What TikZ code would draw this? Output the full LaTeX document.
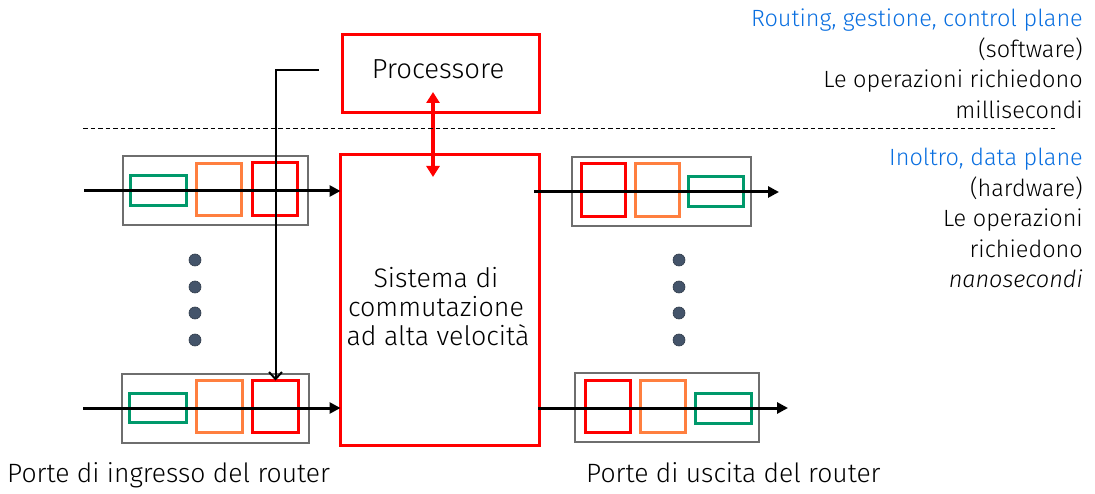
\documentclass[tikz,border=0pt]{standalone}
\usepackage{fontspec}
\setmainfont{Fira Sans}[UprightFont={* Light},ItalicFont={* Light Italic}]
\usetikzlibrary{arrows.meta}
\definecolor{cred}{HTML}{FF0000}
\definecolor{corange}{HTML}{FF7F3F}
\definecolor{cgreen}{HTML}{00996B}
\definecolor{cgray}{HTML}{6E6E6E}
\definecolor{cblue}{HTML}{0A6FE0}
\definecolor{cdot}{HTML}{44546A}
\begin{document}
\begin{tikzpicture}[x=1pt,y=-1pt,
  bx/.style={draw, inner sep=0pt, outer sep=0pt},
  sz/.style 2 args={minimum width=#1pt, minimum height=#2pt},
  port/.style={bx, draw=cgray, line width=2.3pt},
  qr/.style={bx, draw=cred, line width=3.3pt},
  qo/.style={bx, draw=corange, line width=3.3pt},
  qg/.style={bx, draw=cgreen, line width=3.3pt},
  bigbox/.style={bx, draw=cred, line width=3.3pt},
  flow/.style={line width=3pt, -{Triangle[length=11pt,width=11pt]}},
  ctrl/.style={line width=2pt, -{Straight Barb[length=7pt,width=13pt,line width=2pt]}},
  redarr/.style={draw=cred, line width=3.8pt, {Triangle[length=11pt,width=13pt]}-{Triangle[length=11pt,width=13pt]}},
  dotn/.style={circle, fill=cdot, draw=cdot!70!black, line width=0.6pt, minimum size=12pt, inner sep=0pt},
  txt/.style={inner sep=0pt, font=\fontsize{23.5pt}{28pt}\selectfont},
  blue/.style={txt, text=cblue},
  swtxt/.style={inner sep=0pt, font=\fontsize{26.8pt}{30pt}\selectfont, anchor=base}
]
\useasboundingbox (0,0) rectangle (1095,494);

% main blocks
\node[bigbox, sz={197}{78}] (proc) at (441,73.5) {};
\node[inner sep=0pt, font=\fontsize{27.5pt}{32pt}\selectfont, anchor=base] (proct) at (438,79) {Processore};
\node[bigbox, sz={199}{291}] (sw) at (440,300) {};
\node[swtxt] (swt1) at (436,288) {Sistema di};
\node[swtxt] (swt2) at (436,316.5) {commutazione};
\node[swtxt] (swt3) at (438,345) {ad alta velocità};

% input port top
\node[port, sz={185}{69}] (in1) at (215.5,190.5) {};
\node[qg, sz={56}{30}] (in1g) at (158.5,190.5) {};
\node[qo, sz={45}{52}] (in1o) at (219,189.5) {};
\node[qr, sz={45}{53}] (in1r) at (275,189) {};
% input port bottom
\node[port, sz={187}{69}] (in2) at (215.5,408.5) {};
\node[qg, sz={57}{29}] (in2g) at (158,408) {};
\node[qo, sz={46}{52}] (in2o) at (219.5,406.5) {};
\node[qr, sz={46}{52}] (in2r) at (275.5,406.5) {};
% output port top
\node[port, sz={179}{69}] (out1) at (661.5,191.5) {};
\node[qr, sz={44}{53}] (out1r) at (603.5,190) {};
\node[qo, sz={44}{53}] (out1o) at (657.5,190) {};
\node[qg, sz={55}{30}] (out1g) at (716,191.5) {};
% output port bottom
\node[port, sz={184}{69}] (out2) at (667,407.5) {};
\node[qr, sz={45}{52}] (out2r) at (608,406.5) {};
\node[qo, sz={45}{52}] (out2o) at (663,406.5) {};
\node[qg, sz={56}{30}] (out2g) at (723.5,408.5) {};

% dots
\foreach \y [count=\i] in {260,287,313,340} {
  \node[dotn] (dl\i) at (195,\y) {};
  \node[dotn] (dr\i) at (679,\y) {};
}

% flow arrows
\coordinate (a1s) at (84,191);
\coordinate (a2s) at (83,408);
\coordinate (b1s) at (534,192);
\coordinate (b1e) at (779,192);
\coordinate (b2s) at (538,408);
\coordinate (b2e) at (788,408);
\draw[flow] (a1s) -- (sw.west |- a1s);
\draw[flow] (a2s) -- (sw.west |- a2s);
\draw[flow] (b1s) -- (b1e);
\draw[flow] (b2s) -- (b2e);

% control connector
\coordinate (cs) at (319,70);
\draw[ctrl] (cs) -| (in2r.north);

% processor <-> switch
\coordinate (pa) at (433,92);
\coordinate (pb) at (433,177);
\draw[redarr] (pa) -- (pb);

% dashed separator
\coordinate (d1) at (83,129);
\coordinate (d2) at (1055,129);
\draw[line width=1pt, dash pattern=on 4.5pt off 3pt] (d1) -- (d2);

% right column texts
\node[blue, anchor=base east] (r1) at (1083,27) {Routing, gestione, control plane};
\node[txt, anchor=base east] (r2) at (1083,57.5) {(software)};
\node[txt, anchor=base east] (r3) at (1083,88) {Le operazioni richiedono};
\node[txt, anchor=base east] (r4) at (1083,118.5) {millisecondi};
\node[blue, anchor=base east] (s1) at (1083,166) {Inoltro, data plane};
\node[txt, anchor=base east] (s2) at (1083,196.5) {(hardware)};
\node[txt, anchor=base east] (s3) at (1083,227) {Le operazioni};
\node[txt, anchor=base east] (s4) at (1083,257.5) {richiedono};
\node[txt, anchor=base east] (s5) at (1083,288) {\itshape nanosecondi};

% bottom labels
\node[inner sep=0pt, font=\fontsize{26.5pt}{30pt}\selectfont, anchor=base west] (lin) at (7,482) {Porte di ingresso del router};
\node[inner sep=0pt, font=\fontsize{26.5pt}{30pt}\selectfont, anchor=base west] (lout) at (586,482) {Porte di uscita del router};
\end{tikzpicture}
\end{document}
